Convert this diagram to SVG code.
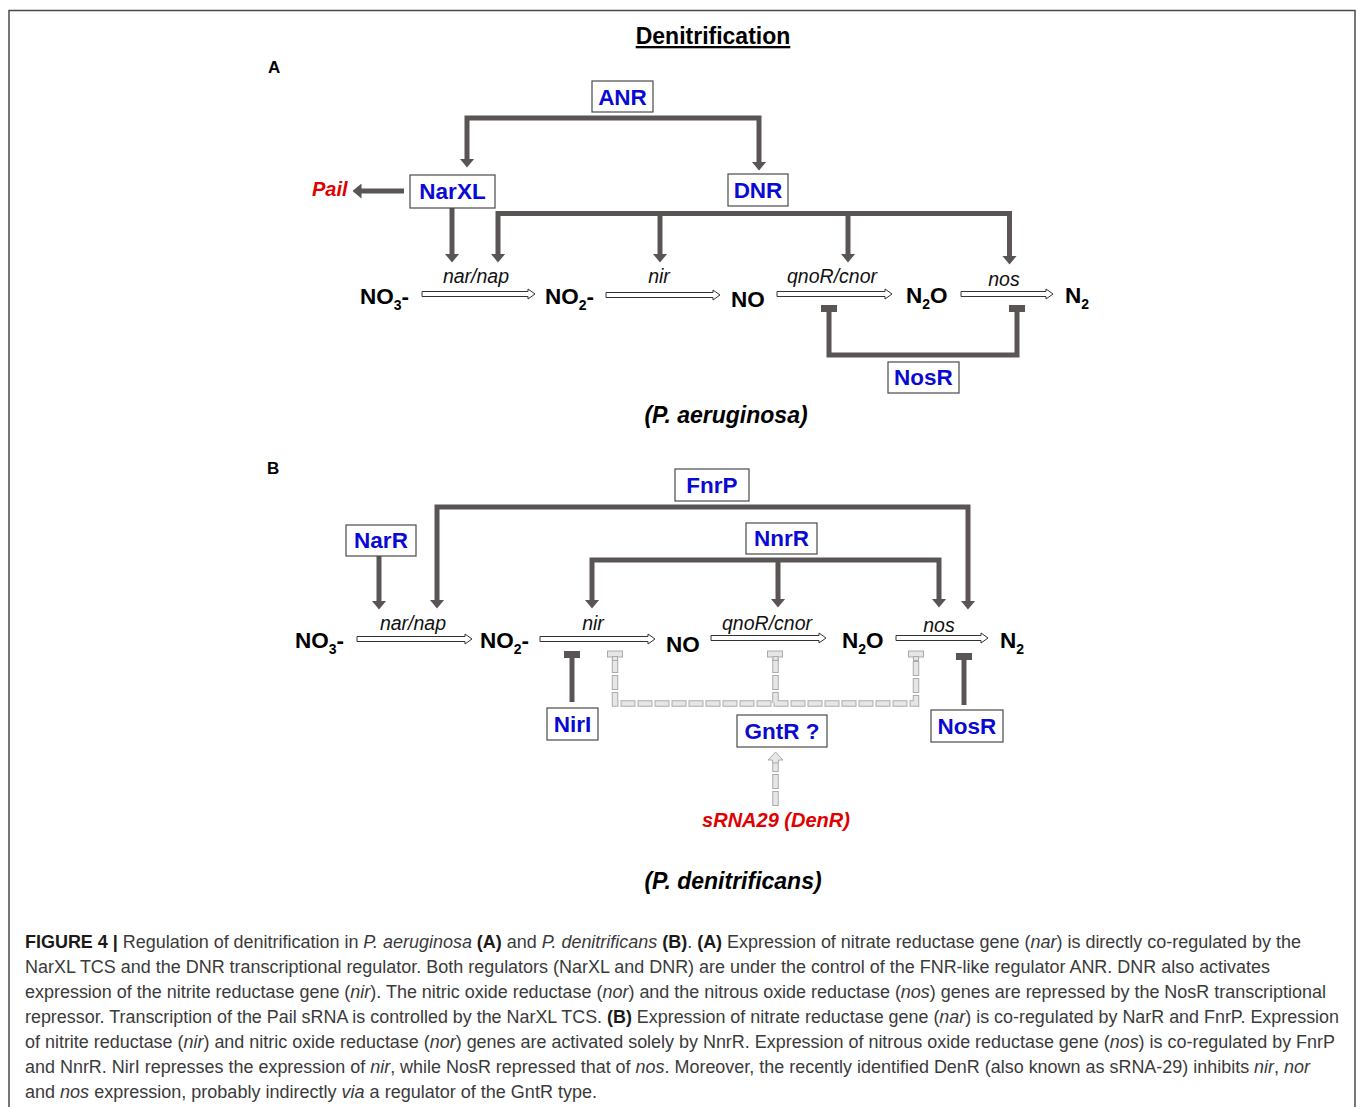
<svg xmlns="http://www.w3.org/2000/svg" width="1357" height="1107" viewBox="0 0 1357 1107">
<defs>
<style>
.frame{fill:none;stroke:#4a4a4a;stroke-width:1.5}
.box{fill:#fff;stroke:#4a4a4a;stroke-width:1.2}
.lbl{font-family:"Liberation Sans",Arial,sans-serif;font-weight:bold;font-size:22.5px;fill:#0a0ad2;text-anchor:middle}
.chem{font-family:"Liberation Sans",Arial,sans-serif;font-weight:bold;font-size:22.5px;fill:#000}
.gene{font-family:"Liberation Sans",Arial,sans-serif;font-style:italic;font-size:19.5px;fill:#111;text-anchor:middle}
.org{font-family:"Liberation Sans",Arial,sans-serif;font-weight:bold;font-style:italic;font-size:23px;fill:#000;text-anchor:middle}
.red{font-family:"Liberation Sans",Arial,sans-serif;font-weight:bold;font-style:italic;font-size:20px;fill:#e00000}
.pl{font-family:"Liberation Sans",Arial,sans-serif;font-weight:bold;font-size:17px;fill:#000}
.con{fill:none;stroke:#5a5454;stroke-width:5;stroke-linejoin:miter}
.tee{fill:#5a5454}
.rx{fill:#fff;stroke:#333;stroke-width:1}
.gout{fill:none;stroke:#ababab;stroke-width:6.5}
.gin{fill:none;stroke:#e6e6e6;stroke-width:4.5}
.gh{fill:#e6e6e6;stroke:#ababab;stroke-width:1}
.cap{font-family:"Liberation Sans Narrow","Liberation Sans",Arial,sans-serif;font-size:17.5px;fill:#3a3a3a}
.b{font-weight:bold;fill:#1a1a1a}
.i{font-style:italic}
</style>
<marker id="ah" viewBox="0 0 9 15" refX="0.5" refY="7.5" markerWidth="9" markerHeight="15" markerUnits="userSpaceOnUse" orient="auto">
<path d="M0,0 L9,7.5 L0,15 Z" fill="#5a5454"/>
</marker>
</defs>
<rect x="0" y="0" width="1357" height="1107" fill="#fff"/>
<rect class="frame" x="9" y="10.5" width="1346" height="1200"/>

<text x="713" y="44" font-family="Liberation Sans, Arial, sans-serif" font-weight="bold" font-size="23" text-anchor="middle" text-decoration="underline">Denitrification</text>
<text class="pl" x="268" y="73">A</text>
<text class="pl" x="267" y="474">B</text>

<g id="connectors">
<!-- Panel A -->
<path class="con" d="M622,118 H467 V159" marker-end="url(#ah)"/>
<path class="con" d="M622,118 H759 V162" marker-end="url(#ah)"/>
<path class="con" d="M404,191 H361" marker-end="url(#ah)"/>
<path class="con" d="M452,208 V254" marker-end="url(#ah)"/>
<path class="con" d="M755,213.5 H498 V254" marker-end="url(#ah)"/>
<path class="con" d="M755,213.5 H1009.5 V256" marker-end="url(#ah)"/>
<path class="con" d="M660,213 V254" marker-end="url(#ah)"/>
<path class="con" d="M848,213 V254" marker-end="url(#ah)"/>
<path class="con" d="M829,311 V355 H1017 V311"/>
<rect class="tee" x="821" y="305" width="16" height="7"/>
<rect class="tee" x="1009" y="305" width="16" height="7"/>
<!-- reaction arrows A -->
<path class="rx" d="M422,291.5 H528 V289 L535,294 L528,299 V296.5 H422 Z"/>
<path class="rx" d="M606,292.5 H713 V290 L720,295 L713,300 V297.5 H606 Z"/>
<path class="rx" d="M777,291.5 H885 V289 L892,294 L885,299 V296.5 H777 Z"/>
<path class="rx" d="M961,291.5 H1046 V289 L1053,294 L1046,299 V296.5 H961 Z"/>
<!-- Panel B -->
<path class="con" d="M712,507 H437 V600" marker-end="url(#ah)"/>
<path class="con" d="M712,507 H968 V601" marker-end="url(#ah)"/>
<path class="con" d="M379,556 V601" marker-end="url(#ah)"/>
<path class="con" d="M781,560 H592 V600" marker-end="url(#ah)"/>
<path class="con" d="M781,560 H939 V599" marker-end="url(#ah)"/>
<path class="con" d="M778,560 V599" marker-end="url(#ah)"/>
<rect class="tee" x="564" y="651" width="16" height="7"/>
<path class="con" d="M572,657 V702"/>
<rect class="tee" x="956" y="653" width="16" height="7"/>
<path class="con" d="M964,659 V705"/>
<!-- reaction arrows B -->
<path class="rx" d="M357,636.5 H465 V634 L472,639 L465,644 V641.5 H357 Z"/>
<path class="rx" d="M540,636.5 H648 V634 L655,639 L648,644 V641.5 H540 Z"/>
<path class="rx" d="M711,635.5 H819 V633 L826,638 L819,643 V640.5 H711 Z"/>
<path class="rx" d="M896,635.5 H981 V633 L988,638 L981,643 V640.5 H896 Z"/>
<!-- GntR segmented inhibition -->
<path class="gout" d="M615,658 V703.5 H916 V658 M775.5,658 V703" stroke-dasharray="15 2"/>
<path class="gin" d="M615,658 V703.5 H916 V658 M775.5,658 V703" stroke-dasharray="13 4" stroke-dashoffset="-1"/>
<rect class="gh" x="607.5" y="651" width="15" height="6"/>
<rect class="gh" x="767.5" y="651" width="15" height="6"/>
<rect class="gh" x="908.5" y="651" width="15" height="6"/>
<rect class="gh" x="612.5" y="656.5" width="5" height="4"/>
<rect class="gh" x="773" y="656.5" width="5" height="4"/>
<rect class="gh" x="913.5" y="656.5" width="5" height="4"/>
<!-- sRNA29 hollow arrow -->
<path class="gout" d="M775.5,806 V760" stroke-dasharray="15 2"/>
<path class="gin" d="M775.5,806 V760" stroke-dasharray="13 4" stroke-dashoffset="-1"/>
<path class="gh" d="M768,760 L775.5,752 L783,760 L778.5,760 L778.5,763 L772.5,763 L772.5,760 Z"/>
</g>

<g id="node-ANR"><rect class="box" x="592" y="81" width="61" height="31"/><text class="lbl" x="622.5" y="105">ANR</text></g>
<g id="node-NarXL"><rect class="box" x="410" y="175" width="85" height="33"/><text class="lbl" x="452.5" y="199">NarXL</text></g>
<g id="node-DNR"><rect class="box" x="728" y="174" width="60" height="32"/><text class="lbl" x="758" y="198">DNR</text></g>
<g id="node-Pail"><text class="red" x="312" y="196">Pail</text></g>
<g id="node-NosR-A"><rect class="box" x="888" y="362" width="71" height="31"/><text class="lbl" x="923.5" y="385">NosR</text></g>

<g id="species-A">
<text class="chem" x="360" y="304">NO<tspan font-size="14" dy="6">3</tspan><tspan dy="-6">-</tspan></text>
<text class="chem" x="545" y="304">NO<tspan font-size="14" dy="6">2</tspan><tspan dy="-6">-</tspan></text>
<text class="chem" x="731" y="307">NO</text>
<text class="chem" x="906" y="303">N<tspan font-size="14" dy="6">2</tspan><tspan dy="-6">O</tspan></text>
<text class="chem" x="1065" y="303">N<tspan font-size="14" dy="6">2</tspan></text>
<text class="gene" x="476" y="283">nar/nap</text>
<text class="gene" x="659" y="283">nir</text>
<text class="gene" x="832" y="283">qnoR/cnor</text>
<text class="gene" x="1004" y="286">nos</text>
</g>
<text class="org" x="726" y="423">(P. aeruginosa)</text>

<g id="node-FnrP"><rect class="box" x="675" y="469" width="74" height="32"/><text class="lbl" x="712" y="493">FnrP</text></g>
<g id="node-NarR"><rect class="box" x="346" y="525" width="70" height="31"/><text class="lbl" x="381" y="548">NarR</text></g>
<g id="node-NnrR"><rect class="box" x="746" y="523" width="71" height="31"/><text class="lbl" x="781.5" y="546">NnrR</text></g>
<g id="node-NirI"><rect class="box" x="547" y="708" width="51" height="32"/><text class="lbl" x="572.5" y="732">NirI</text></g>
<g id="node-GntR"><rect class="box" x="737" y="715" width="90" height="32"/><text class="lbl" x="782" y="739">GntR ?</text></g>
<g id="node-NosR-B"><rect class="box" x="931" y="710" width="72" height="32"/><text class="lbl" x="967" y="734">NosR</text></g>
<g id="node-sRNA29"><text class="red" x="776" y="827" text-anchor="middle">sRNA29 (DenR)</text></g>

<g id="species-B">
<text class="chem" x="295" y="648">NO<tspan font-size="14" dy="6">3</tspan><tspan dy="-6">-</tspan></text>
<text class="chem" x="480" y="648">NO<tspan font-size="14" dy="6">2</tspan><tspan dy="-6">-</tspan></text>
<text class="chem" x="666" y="652">NO</text>
<text class="chem" x="842" y="648">N<tspan font-size="14" dy="6">2</tspan><tspan dy="-6">O</tspan></text>
<text class="chem" x="1000" y="648">N<tspan font-size="14" dy="6">2</tspan></text>
<text class="gene" x="413" y="630">nar/nap</text>
<text class="gene" x="593" y="630">nir</text>
<text class="gene" x="767" y="630">qnoR/cnor</text>
<text class="gene" x="939" y="632">nos</text>
</g>
<text class="org" x="733" y="889">(P. denitrificans)</text>

<g id="caption">
<text class="cap" x="25" y="948" textLength="1276" lengthAdjust="spacingAndGlyphs"><tspan class="b">FIGURE 4 |</tspan> Regulation of denitrification in <tspan class="i">P. aeruginosa</tspan> <tspan class="b">(A)</tspan> and <tspan class="i">P. denitrificans</tspan> <tspan class="b">(B)</tspan>. <tspan class="b">(A)</tspan> Expression of nitrate reductase gene (<tspan class="i">nar</tspan>) is directly co-regulated by the</text>
<text class="cap" x="25" y="973" textLength="1245" lengthAdjust="spacingAndGlyphs">NarXL TCS and the DNR transcriptional regulator. Both regulators (NarXL and DNR) are under the control of the FNR-like regulator ANR. DNR also activates</text>
<text class="cap" x="25" y="998" textLength="1301" lengthAdjust="spacingAndGlyphs">expression of the nitrite reductase gene (<tspan class="i">nir</tspan>). The nitric oxide reductase (<tspan class="i">nor</tspan>) and the nitrous oxide reductase (<tspan class="i">nos</tspan>) genes are repressed by the NosR transcriptional</text>
<text class="cap" x="25" y="1023" textLength="1314" lengthAdjust="spacingAndGlyphs">repressor. Transcription of the Pail sRNA is controlled by the NarXL TCS. <tspan class="b">(B)</tspan> Expression of nitrate reductase gene (<tspan class="i">nar</tspan>) is co-regulated by NarR and FnrP. Expression</text>
<text class="cap" x="25" y="1048" textLength="1310" lengthAdjust="spacingAndGlyphs">of nitrite reductase (<tspan class="i">nir</tspan>) and nitric oxide reductase (<tspan class="i">nor</tspan>) genes are activated solely by NnrR. Expression of nitrous oxide reductase gene (<tspan class="i">nos</tspan>) is co-regulated by FnrP</text>
<text class="cap" x="25" y="1073" textLength="1285" lengthAdjust="spacingAndGlyphs">and NnrR. NirI represses the expression of <tspan class="i">nir</tspan>, while NosR repressed that of <tspan class="i">nos</tspan>. Moreover, the recently identified DenR (also known as sRNA-29) inhibits <tspan class="i">nir</tspan>, <tspan class="i">nor</tspan></text>
<text class="cap" x="25" y="1098" textLength="572" lengthAdjust="spacingAndGlyphs">and <tspan class="i">nos</tspan> expression, probably indirectly <tspan class="i">via</tspan> a regulator of the GntR type.</text>
</g>
</svg>
